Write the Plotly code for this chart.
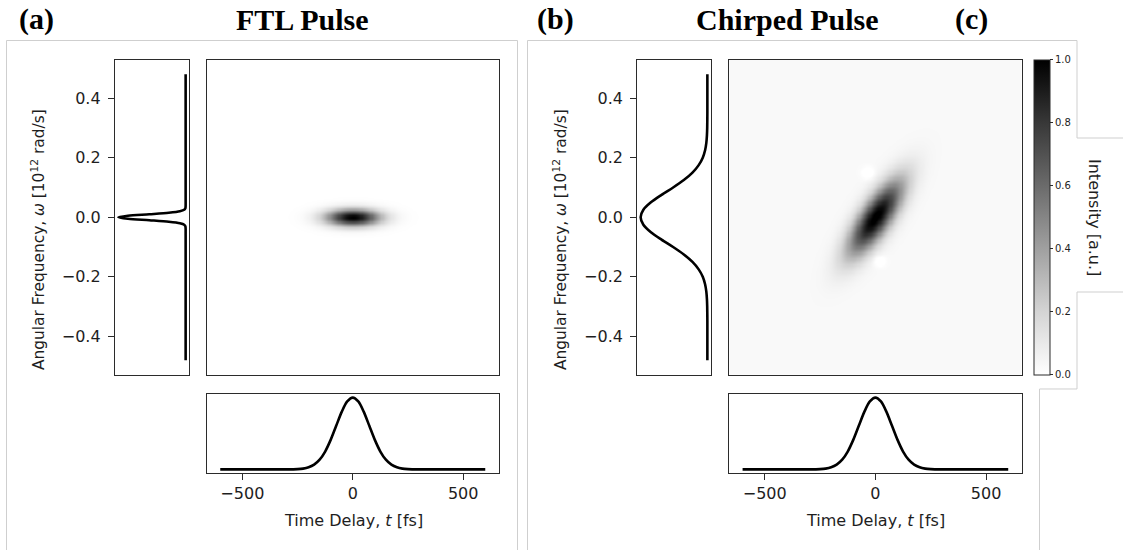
import numpy as np
import plotly.graph_objects as go

W, H = 1123, 550

# ---- temporal intensity profile (normalised), same envelope for both pulses
delay_fs = [-600, -350, -300, -250, -225, -200, -175, -150, -125, -100, -75, -50, -25,
            0, 25, 50, 75, 100, 125, 150, 175, 200, 225, 250, 300, 350, 600]
ftl_temporal = [0, 0, 0.0003, 0.004, 0.011, 0.029, 0.066, 0.135, 0.249, 0.411, 0.607, 0.801, 0.946,
                1.0, 0.946, 0.801, 0.607, 0.411, 0.249, 0.135, 0.066, 0.029, 0.011, 0.004, 0.0003, 0, 0]
chirped_temporal = [0, 0, 0.0003, 0.004, 0.011, 0.029, 0.066, 0.135, 0.249, 0.411, 0.607, 0.801, 0.946,
                    1.0, 0.946, 0.801, 0.607, 0.411, 0.249, 0.135, 0.066, 0.029, 0.011, 0.004, 0.0003, 0, 0]

# ---- spectral intensity profiles (normalised)
ftl_freq = [-0.48, -0.06, -0.04, -0.035, -0.03, -0.025, -0.02, -0.015, -0.01, -0.005,
            0, 0.005, 0.01, 0.015, 0.02, 0.025, 0.03, 0.035, 0.04, 0.06, 0.48]
ftl_spectrum = [0, 0, 0, 0.001, 0.004, 0.021, 0.085, 0.25, 0.54, 0.857,
                1.0, 0.857, 0.54, 0.25, 0.085, 0.021, 0.004, 0.001, 0, 0, 0]

chirped_freq = [-0.48, -0.35, -0.3, -0.275, -0.25, -0.225, -0.2, -0.175, -0.15, -0.125, -0.1, -0.075,
                -0.05, -0.025, 0, 0.025, 0.05, 0.075, 0.1, 0.125, 0.15, 0.175, 0.2, 0.225, 0.25,
                0.275, 0.3, 0.35, 0.48]
chirped_spectrum = [0, 0, 0.0025, 0.0065, 0.0155, 0.034, 0.069, 0.13, 0.223, 0.353, 0.513, 0.687,
                    0.846, 0.959, 1.0, 0.959, 0.846, 0.687, 0.513, 0.353, 0.223, 0.13, 0.069, 0.034,
                    0.0155, 0.0065, 0.0025, 0, 0]

# ---- time-frequency maps: Gaussian distribution parameters
ftl_map_sigma_t = 85.0        # fs
ftl_map_sigma_w = 0.020       # 1e12 rad/s
chirp_map_sigma_t = 85.0      # fs
chirp_map_slope = 0.00078     # frequency sweep, 1e12 rad/s per fs
chirp_map_sigma_w = 0.055     # local spectral width
chirp_map_floor = 0.028       # faint background level
# negative interference lobes (t, w, amplitude)
chirp_lobes = [(-35, 0.15, -0.07), (15, -0.145, -0.07)]
lobe_sigma_t, lobe_sigma_w = 22.0, 0.014

t_range = [-660, 660]
w_range = [-0.528, 0.528]
t_ticks = [-500, 0, 500]
w_ticks = [-0.4, -0.2, 0.0, 0.2, 0.4]
cbar_ticks = [0.0, 0.2, 0.4, 0.6, 0.8, 1.0]

t_grid = np.arange(-660, 661, 5.0)
w_grid = np.arange(-0.53, 0.5301, 0.004)
T, Wg = np.meshgrid(t_grid, w_grid)

z_ftl = np.exp(-T**2 / (2 * ftl_map_sigma_t**2)) * np.exp(-Wg**2 / (2 * ftl_map_sigma_w**2))
z_chirp = np.exp(-T**2 / (2 * chirp_map_sigma_t**2)) * \
    np.exp(-(Wg - chirp_map_slope * T)**2 / (2 * chirp_map_sigma_w**2)) + chirp_map_floor
for lt, lw, la in chirp_lobes:
    z_chirp += la * np.exp(-(T - lt)**2 / (2 * lobe_sigma_t**2) - (Wg - lw)**2 / (2 * lobe_sigma_w**2))
z_chirp = np.clip(z_chirp, 0, None)


def px_x(a, b):
    return [a / W, b / W]


def px_y(a, b):
    return [1 - b / H, 1 - a / H]


INK = "#1e1e1e"
FRAME = "#2b2b2b"
TICKFONT = dict(family="DejaVu Sans", size=16, color=INK)

fig = go.Figure()

panels = [
    dict(spec=(115, 189), main=(207, 498.5), freq=ftl_freq, spec_val=ftl_spectrum,
         temp=ftl_temporal, z=z_ftl, ax=(1, 2, 3)),
    dict(spec=(637.3, 710.7), main=(729.3, 1021.5), freq=chirped_freq, spec_val=chirped_spectrum,
         temp=chirped_temporal, z=z_chirp, ax=(4, 5, 6)),
]

layout = {}
for p in panels:
    a_spec, a_main, a_time = p["ax"]
    # spectrum (rotated): intensity on x (reversed), frequency on y
    fig.add_trace(go.Scatter(x=p["spec_val"], y=p["freq"], mode="lines",
                             line=dict(color="black", width=2.6, shape="spline", smoothing=0.8),
                             xaxis=f"x{a_spec}", yaxis=f"y{a_spec}", showlegend=False,
                             hoverinfo="skip"))
    # time-frequency map
    fig.add_trace(go.Heatmap(x=t_grid, y=w_grid, z=p["z"], coloraxis="coloraxis",
                             zsmooth="best", xaxis=f"x{a_main}", yaxis=f"y{a_main}",
                             hoverinfo="skip"))
    # temporal profile
    fig.add_trace(go.Scatter(x=delay_fs, y=p["temp"], mode="lines",
                             line=dict(color="black", width=2.6, shape="spline", smoothing=0.8),
                             xaxis=f"x{a_time}", yaxis=f"y{a_time}", showlegend=False,
                             hoverinfo="skip"))

    frame = dict(showline=True, mirror=True, linecolor=FRAME, linewidth=1.3,
                 showgrid=False, zeroline=False)

    layout[f"xaxis{a_spec}"] = dict(domain=px_x(*p["spec"]), range=[1.05, -0.05],
                                    showticklabels=False, ticks="", anchor=f"y{a_spec}", **frame)
    layout[f"yaxis{a_spec}"] = dict(domain=px_y(60, 374.5), range=w_range, tickvals=w_ticks,
                                    tickformat=".1f", ticks="outside", ticklen=6, tickwidth=1.2,
                                    tickcolor=FRAME, tickfont=TICKFONT, ticklabelstandoff=4,
                                    anchor=f"x{a_spec}", **frame)
    layout[f"xaxis{a_main}"] = dict(domain=px_x(*p["main"]), range=t_range, showticklabels=False,
                                    ticks="", anchor=f"y{a_main}", **frame)
    layout[f"yaxis{a_main}"] = dict(domain=px_y(60, 374.5), range=w_range, showticklabels=False,
                                    ticks="", anchor=f"x{a_main}", **frame)
    layout[f"xaxis{a_time}"] = dict(domain=px_x(*p["main"]), range=t_range, tickvals=t_ticks,
                                    ticks="outside", ticklen=6, tickwidth=1.2, tickcolor=FRAME,
                                    tickfont=TICKFONT, anchor=f"y{a_time}", **frame)
    layout[f"yaxis{a_time}"] = dict(domain=px_y(394, 473), range=[-0.05, 1.05],
                                    showticklabels=False, ticks="", anchor=f"x{a_time}", **frame)

greys = [[0.0, "#ffffff"], [0.2, "#d4d4d4"], [0.4, "#a0a0a0"], [0.6, "#6b6b6b"],
         [0.8, "#383838"], [1.0, "#000000"]]

fig.update_layout(
    width=W, height=H, margin=dict(l=0, r=0, t=0, b=0),
    paper_bgcolor="white", plot_bgcolor="white",
    coloraxis=dict(cmin=0, cmax=1, colorscale=greys,
                   colorbar=dict(x=1034.3 / W, xanchor="left", xpad=0, ypad=0,
                                 y=1 - 217.2 / H, yanchor="middle",
                                 lenmode="pixels", len=315, thicknessmode="pixels", thickness=16.4,
                                 outlinecolor=FRAME, outlinewidth=1,
                                 tickvals=cbar_ticks, tickformat=".1f", ticks="outside",
                                 ticklen=3, tickwidth=1, tickcolor=FRAME,
                                 tickfont=dict(family="DejaVu Sans", size=10, color=INK))),
    **layout,
)

ann = []
# axis titles
for cx in (38, 560):
    ann.append(dict(x=cx / W, y=1 - 240 / H, xref="paper", yref="paper", textangle=-90,
                    text="Angular Frequency, <i>ω</i> [10<sup>12</sup> rad/s]", showarrow=False,
                    font=dict(family="DejaVu Sans", size=15.4, color=INK),
                    xanchor="center", yanchor="middle"))
for cx in (353, 875):
    ann.append(dict(x=cx / W, y=1 - 520 / H, xref="paper", yref="paper",
                    text="Time Delay, <i>t</i> [fs]", showarrow=False,
                    font=dict(family="DejaVu Sans", size=16, color=INK),
                    xanchor="center", yanchor="middle"))
# colorbar label
ann.append(dict(x=1095 / W, y=1 - 217 / H, xref="paper", yref="paper", textangle=90,
                text="Intensity [a.u.]", showarrow=False,
                font=dict(family="DejaVu Sans", size=16, color=INK),
                xanchor="center", yanchor="middle"))
# panel titles
for txt, cx in (("(a)", 36), ("FTL Pulse", 302), ("(b)", 555), ("Chirped Pulse", 787), ("(c)", 971)):
    ann.append(dict(x=cx / W, y=1 - 19 / H, xref="paper", yref="paper",
                    text=f"<b>{txt}</b>", showarrow=False,
                    font=dict(family="Liberation Serif", size=30, color="black"),
                    xanchor="center", yanchor="middle"))
fig.update_layout(annotations=ann)


def path(points):
    return "M " + " L ".join(f"{x / W:.5f},{1 - y / H:.5f}" for x, y in points)


gray_line = dict(color="#cfcfcf", width=1)
shapes = [
    dict(type="path", xref="paper", yref="paper", line=gray_line,
         path=path([(6.5, 560), (6.5, 40.5), (517.5, 40.5), (517.5, 560)])),
    dict(type="path", xref="paper", yref="paper", line=gray_line,
         path=path([(527.5, 560), (527.5, 40.5), (1077, 40.5), (1077, 138), (1130, 138)])),
    dict(type="path", xref="paper", yref="paper", line=gray_line,
         path=path([(1130, 292), (1077, 292), (1077, 389), (1039.5, 389), (1039.5, 560)])),
]
fig.update_layout(shapes=shapes)

fig.write_html("out.html")
